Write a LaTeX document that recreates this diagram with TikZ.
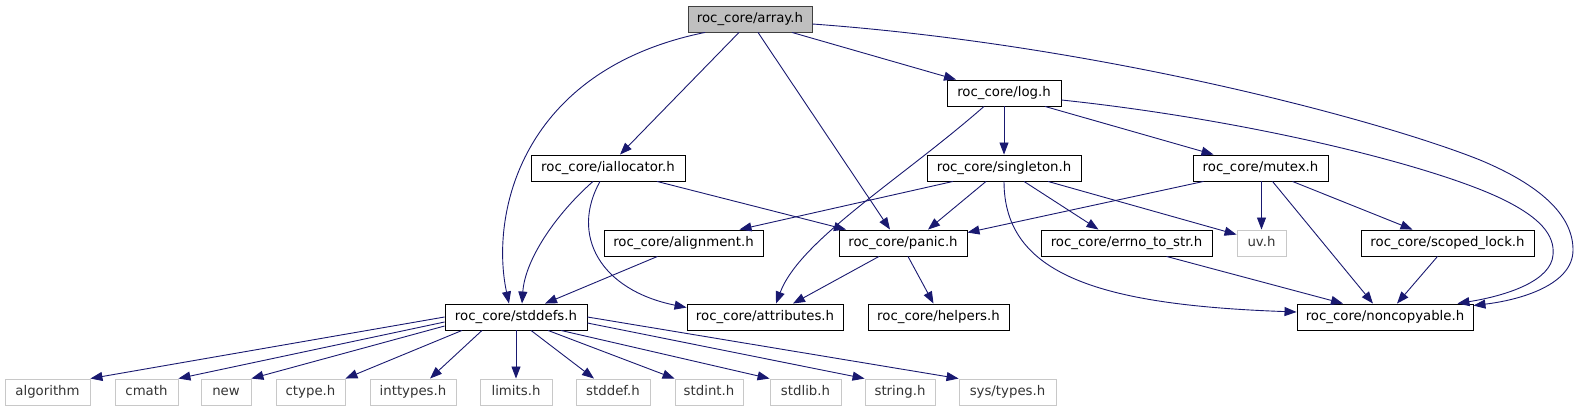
\documentclass[tikz,border=0pt]{standalone}
\usepackage{fontspec}
\setmainfont{DejaVu Sans}
\usepackage{tikz}
\usetikzlibrary{arrows.meta,positioning}
\definecolor{edgeblue}{HTML}{191970}
\definecolor{boxgray}{HTML}{BFBFBF}
\definecolor{sysgray}{HTML}{C8C8C8}

\begin{document}
\begin{tikzpicture}[
  x=1pt, y=-1pt,
  font=\fontsize{13.3}{16}\selectfont,
  hdr/.style={draw=black, line width=0.9pt, minimum height=26pt, inner sep=0pt, text height=9.8pt, text depth=2.6pt},
  top/.style={hdr, fill=boxgray, draw=black!75},
  sys/.style={hdr, draw=sysgray, text=black!80},
  arr/.style={-{Triangle[length=12pt,width=9pt]}, edgeblue, line width=0.9pt}
]
\useasboundingbox (0,0) rectangle (1579,411);
\node[top, minimum width=124pt] (array) at (750,19) {roc\_core/array.h};
\node[hdr, minimum width=114pt] (log) at (1004,93) {roc\_core/log.h};
\node[hdr, minimum width=154pt] (ialloc) at (608,168) {roc\_core/iallocator.h};
\node[hdr, minimum width=154pt] (single) at (1004,168) {roc\_core/singleton.h};
\node[hdr, minimum width=135pt] (mutex) at (1260.5,168) {roc\_core/mutex.h};
\node[hdr, minimum width=159pt] (align) at (683.5,243) {roc\_core/alignment.h};
\node[hdr, minimum width=128pt] (panic) at (903,243) {roc\_core/panic.h};
\node[hdr, minimum width=171pt] (errno) at (1126.5,243) {roc\_core/errno\_to\_str.h};
\node[sys, minimum width=49pt] (uv) at (1261.5,243) {uv.h};
\node[hdr, minimum width=173pt] (scoped) at (1447.5,243) {roc\_core/scoped\_lock.h};
\node[hdr, minimum width=142pt] (stddefs) at (516,317) {roc\_core/stddefs.h};
\node[hdr, minimum width=156pt] (attrs) at (765,317) {roc\_core/attributes.h};
\node[hdr, minimum width=141pt] (helpers) at (938.5,317) {roc\_core/helpers.h};
\node[hdr, minimum width=176pt] (noncopy) at (1385,317) {roc\_core/noncopyable.h};
\node[sys, minimum width=85pt] (algorithm) at (47.5,392) {algorithm};
\node[sys, minimum width=63pt] (cmath) at (146.5,392) {cmath};
\node[sys, minimum width=50pt] (new) at (226,392) {new};
\node[sys, minimum width=69pt] (ctype) at (310.5,392) {ctype.h};
\node[sys, minimum width=86pt] (inttypes) at (413,392) {inttypes.h};
\node[sys, minimum width=72pt] (limits) at (516,392) {limits.h};
\node[sys, minimum width=74pt] (stddef) at (613,392) {stddef.h};
\node[sys, minimum width=68pt] (stdint) at (709,392) {stdint.h};
\node[sys, minimum width=71pt] (stdlib) at (805.5,392) {stdlib.h};
\node[sys, minimum width=70pt] (string) at (900,392) {string.h};
\node[sys, minimum width=97pt] (systypes) at (1007.5,392) {sys/types.h};
\draw[arr] ([xshift=-45pt]array.south) .. controls (520,70) and (490,215) .. ([xshift=-7pt]stddefs.north);
\draw[arr] ([xshift=-11pt]array.south) -- ([xshift=12pt]ialloc.north);
\draw[arr] ([xshift=8pt]array.south) -- ([xshift=-13pt]panic.north);
\draw[arr] ([xshift=42pt]array.south) -- ([xshift=-48pt]log.north);
\draw[arr] ([yshift=-5pt]array.east) .. controls (1100,45) and (1380,120) .. (1480,160) .. controls (1540,185) and (1573,215) .. (1573,250) .. controls (1573,285) and (1520,300) .. ([yshift=-2pt]noncopy.north east);
\draw[arr] ([xshift=-20pt]log.south) .. controls (900,180) and (800,240) .. ([xshift=11pt]attrs.north);
\draw[arr] (log.south) -- (single.north);
\draw[arr] ([xshift=41pt]log.south) -- ([xshift=-47pt]mutex.north);
\draw[arr] ([yshift=-7pt]log.east) .. controls (1250,120) and (1430,165) .. (1500,198) .. controls (1540,217) and (1555,235) .. (1553,255) .. controls (1551,280) and (1510,295) .. ([xshift=-16pt]noncopy.north east);
\draw[arr] ([xshift=-15pt]ialloc.south) .. controls (555,215) and (525,260) .. ([xshift=6pt]stddefs.north);
\draw[arr] ([xshift=-8pt]ialloc.south) .. controls (570,235) and (600,290) .. ([yshift=-4pt]attrs.north west);
\draw[arr] ([xshift=49pt]ialloc.south) -- ([xshift=-57pt]panic.north);
\draw[arr] ([xshift=-51pt]single.south) -- ([xshift=56pt]align.north);
\draw[arr] ([xshift=-18pt]single.south) -- ([xshift=25pt]panic.north);
\draw[arr] ([xshift=20pt]single.south) -- ([xshift=-28pt]errno.north);
\draw[arr] ([xshift=44pt]single.south) -- ([yshift=-5pt]uv.north west);
\draw[arr] (single.south) .. controls (1004,275) and (1100,305) .. ([yshift=5pt]noncopy.west);
\draw[arr] ([xshift=-57pt]mutex.south) -- ([yshift=-3pt]panic.north east);
\draw[arr] ([xshift=1pt]mutex.south) -- (uv.north);
\draw[arr] ([xshift=12pt]mutex.south) -- ([xshift=-12pt]noncopy.north);
\draw[arr] ([xshift=32pt]mutex.south) -- ([xshift=-35pt]scoped.north);
\draw[arr] ([xshift=-26pt]align.south) -- ([xshift=29pt]stddefs.north);
\draw[arr] ([xshift=-24pt]panic.south) -- ([xshift=28pt]attrs.north);
\draw[arr] ([xshift=5pt]panic.south) -- ([xshift=-5pt]helpers.north);
\draw[arr] ([xshift=40pt]errno.south) -- ([xshift=-42pt]noncopy.north);
\draw[arr] ([xshift=-10pt]scoped.south) -- ([xshift=12pt]noncopy.north);
\draw[arr] (stddefs.west) -- (algorithm.north east);
\draw[arr] ([yshift=-5pt]stddefs.west) -- (cmath.north east);
\draw[arr] ([yshift=-9pt]stddefs.west) -- (new.north east);
\draw[arr] ([xshift=-54pt]stddefs.south) -- (ctype.north east);
\draw[arr] ([xshift=-34pt]stddefs.south) -- ([xshift=17pt]inttypes.north);
\draw[arr] (stddefs.south) -- (limits.north);
\draw[arr] ([xshift=15pt]stddefs.south) -- ([xshift=-19pt]stddef.north);
\draw[arr] ([xshift=32pt]stddefs.south) -- (stdint.north west);
\draw[arr] ([xshift=45pt]stddefs.south) -- (stdlib.north west);
\draw[arr] ([yshift=-6pt]stddefs.east) -- (string.north west);
\draw[arr] (stddefs.east) -- (systypes.north west);
\end{tikzpicture}
\end{document}
